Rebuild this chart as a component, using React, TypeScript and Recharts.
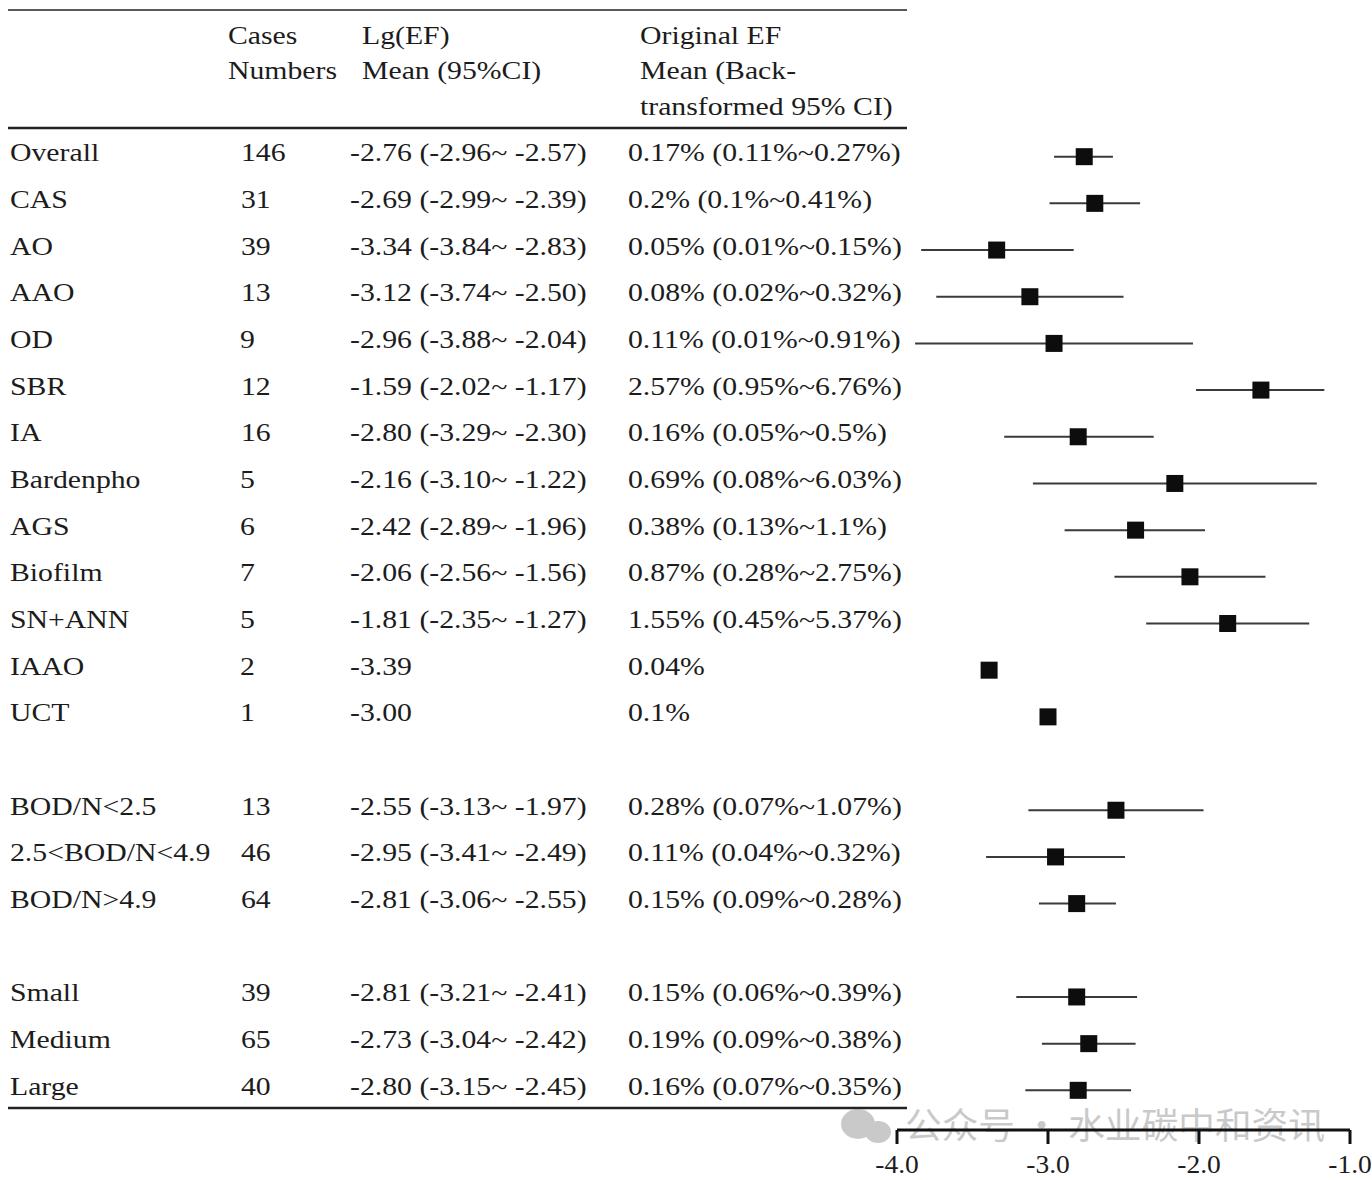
import { ScatterChart, Scatter, XAxis, YAxis, ErrorBar } from "recharts"

// table rows (top to bottom)
const labels = [
  "Overall", "CAS", "AO", "AAO", "OD", "SBR", "IA", "Bardenpho", "AGS", "Biofilm",
  "SN+ANN", "IAAO", "UCT", "BOD/N<2.5", "2.5<BOD/N<4.9", "BOD/N>4.9", "Small", "Medium", "Large",
]
const cases = [146, 31, 39, 13, 9, 12, 16, 5, 6, 7, 5, 2, 1, 13, 46, 64, 39, 65, 40]
// Lg(EF) mean and 95% CI
const means = [-2.76, -2.69, -3.34, -3.12, -2.96, -1.59, -2.8, -2.16, -2.42, -2.06, -1.81, -3.39, -3.0, -2.55, -2.95, -2.81, -2.81, -2.73, -2.8]
const lows = [-2.96, -2.99, -3.84, -3.74, -3.88, -2.02, -3.29, -3.1, -2.89, -2.56, -2.35, null, null, -3.13, -3.41, -3.06, -3.21, -3.04, -3.15]
const highs = [-2.57, -2.39, -2.83, -2.5, -2.04, -1.17, -2.3, -1.22, -1.96, -1.56, -1.27, null, null, -1.97, -2.49, -2.55, -2.41, -2.42, -2.45]
// back-transformed values as printed
const originalEF = [
  "0.17% (0.11%~0.27%)", "0.2% (0.1%~0.41%)", "0.05% (0.01%~0.15%)", "0.08% (0.02%~0.32%)",
  "0.11% (0.01%~0.91%)", "2.57% (0.95%~6.76%)", "0.16% (0.05%~0.5%)", "0.69% (0.08%~6.03%)",
  "0.38% (0.13%~1.1%)", "0.87% (0.28%~2.75%)", "1.55% (0.45%~5.37%)", "0.04%", "0.1%",
  "0.28% (0.07%~1.07%)", "0.11% (0.04%~0.32%)", "0.15% (0.09%~0.28%)",
  "0.15% (0.06%~0.39%)", "0.19% (0.09%~0.38%)", "0.16% (0.07%~0.35%)",
]
// row slots (blank slot between the three groups)
const rowPos = [0, 1, 2, 3, 4, 5, 6, 7, 8, 9, 10, 11, 12, 14, 15, 16, 18, 19, 20]
const xTicks = [-4, -3, -2, -1]

const data = labels.map((label, i) => ({
  label,
  pos: rowPos[i],
  mean: means[i],
  err: lows[i] == null ? [0, 0] : [means[i] - (lows[i] as number), (highs[i] as number) - means[i]],
}))

const FONT = "'Liberation Serif', 'Times New Roman', serif"
const INK = "#1c1c1c"

// serif text, stretched sideways like the original figure
const T = ({ x, y, children, anchor = "start", sx = 1.19 }: any) => (
  <text
    transform={`translate(${x},${y}) scale(${sx},1)`}
    fontFamily={FONT}
    fontSize={25}
    fill={INK}
    textAnchor={anchor}
  >
    {children}
  </text>
)

const fmt = (v: number) => v.toFixed(2)

const RowTick = ({ y, payload }: any) => {
  const i = rowPos.indexOf(payload.value)
  if (i < 0) return null
  const lg = lows[i] == null
    ? fmt(means[i])
    : `${fmt(means[i])} (${fmt(lows[i] as number)}~ ${fmt(highs[i] as number)})`
  const by = y + 4.5
  return (
    <g>
      <T x={10} y={by}>{labels[i]}</T>
      <T x={String(cases[i]).length > 1 ? 241 : 240} y={by}>{cases[i]}</T>
      <T x={350} y={by}>{lg}</T>
      <T x={628} y={by}>{originalEF[i]}</T>
    </g>
  )
}

const AxisTick = ({ x, y, payload }: any) => (
  <T x={x} y={y + 27} anchor="middle" sx={1.1}>{payload.value.toFixed(1)}</T>
)

const Square = ({ cx, cy }: any) => (
  <rect x={cx - 8.5} y={cy - 8.5} width={17} height={17} fill="#0d0d0d" />
)

export default function App() {
  return (
    <div style={{ position: "absolute", left: 0, top: 0, background: "#fff" }}>
      <ScatterChart width={1372} height={1180} margin={{ top: 110, right: 22, bottom: 10, left: 0 }}>
        <XAxis
          type="number"
          dataKey="mean"
          domain={[-4, -1]}
          ticks={xTicks}
          allowDataOverflow
          height={40}
          stroke="#111"
          axisLine={{ stroke: "#111", strokeWidth: 3 }}
          tickLine={{ stroke: "#111", strokeWidth: 3 }}
          tickSize={14}
          tick={<AxisTick />}
        />
        <YAxis
          type="number"
          dataKey="pos"
          domain={[-1, 20.85]}
          reversed
          allowDataOverflow
          width={897}
          ticks={rowPos}
          interval={0}
          axisLine={false}
          tickLine={false}
          tick={<RowTick />}
        />
        <Scatter data={data} shape={<Square />} isAnimationActive={false}>
          <ErrorBar dataKey="err" direction="x" width={0} stroke="#3a3a3a" strokeWidth={2} />
        </Scatter>

        {/* table rules and header */}
        <line x1={8} x2={907} y1={10} y2={10} stroke="#222" strokeWidth={1.5} />
        <line x1={8} x2={907} y1={128} y2={128} stroke="#222" strokeWidth={2.5} />
        <line x1={8} x2={907} y1={1108} y2={1108} stroke="#222" strokeWidth={2.5} />
        <T x={228} y={44}>Cases</T>
        <T x={228} y={79}>Numbers</T>
        <T x={362} y={44}>Lg(EF)</T>
        <T x={362} y={79}>Mean (95%CI)</T>
        <T x={640} y={44}>Original EF</T>
        <T x={640} y={79}>Mean (Back-</T>
        <T x={640} y={115}>transformed 95% CI)</T>

        {/* watermark */}
        <g opacity={0.45} fill="#8a8a8a">
          <ellipse cx={858} cy={1124} rx={17} ry={15} />
          <ellipse cx={878} cy={1132} rx={13} ry={11} />
          <text
            x={905}
            y={1139}
            fontFamily="'Noto Sans CJK SC', sans-serif"
            fontSize={36}
            textLength={420}
            lengthAdjust="spacingAndGlyphs"
          >
            公众号 · 水业碳中和资讯
          </text>
        </g>
      </ScatterChart>
    </div>
  )
}
